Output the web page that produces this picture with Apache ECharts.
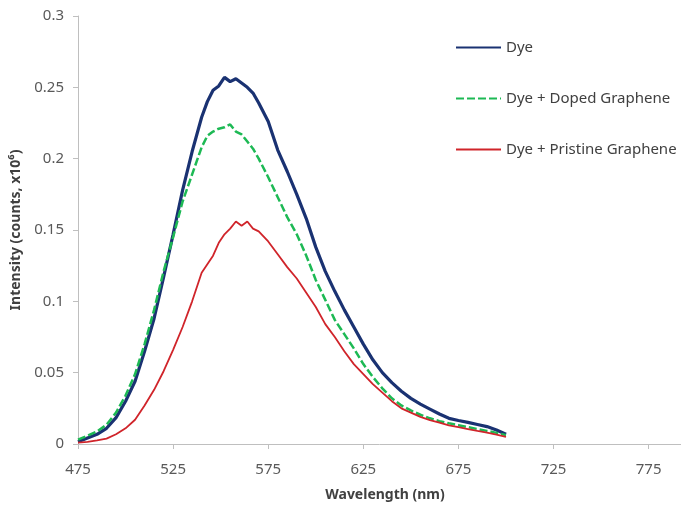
<!DOCTYPE html>
<html>
<head>
<meta charset="utf-8">
<script src="https://cdn.jsdelivr.net/npm/echarts@6/dist/echarts.min.js"></script>
<style>
html,body{margin:0;padding:0;background:#fff;overflow:hidden;}
#chart{width:681px;height:508px;}
</style>
</head>
<body>
<div id="chart"></div>
<script>
// Wavelength (nm)
const wavelengths = [475,480,485,490,495,500,505,510,515,520,525,530,535,540,543,546,549,552,555,558,561,564,567,570,575,580,585,590,595,600,605,610,615,620,625,630,635,640,645,650,655,660,665,670,675,680,685,690,695,700];
// Intensity (counts, x10^6)
const dye = [0.0016,0.0042,0.0068,0.011,0.0185,0.030,0.044,0.065,0.088,0.117,0.147,0.178,0.205,0.229,0.240,0.248,0.251,0.257,0.254,0.256,0.253,0.250,0.246,0.239,0.226,0.206,0.191,0.175,0.158,0.138,0.121,0.107,0.094,0.082,0.070,0.059,0.050,0.043,0.037,0.032,0.028,0.0245,0.021,0.018,0.0165,0.0152,0.0137,0.0122,0.0098,0.0068];
const dyeDoped = [0.003,0.0058,0.0088,0.0135,0.022,0.034,0.049,0.070,0.094,0.121,0.145,0.170,0.189,0.208,0.216,0.219,0.221,0.222,0.224,0.219,0.217,0.212,0.207,0.200,0.187,0.173,0.159,0.147,0.132,0.115,0.101,0.087,0.077,0.067,0.056,0.047,0.039,0.032,0.027,0.0235,0.0205,0.018,0.016,0.0145,0.0132,0.0118,0.0105,0.0092,0.0078,0.0062];
const dyePristine = [0.001,0.0015,0.0025,0.0038,0.0068,0.011,0.017,0.027,0.038,0.051,0.066,0.082,0.100,0.120,0.126,0.132,0.141,0.147,0.151,0.156,0.153,0.156,0.151,0.149,0.142,0.133,0.124,0.116,0.106,0.096,0.084,0.075,0.065,0.056,0.049,0.042,0.036,0.030,0.025,0.022,0.019,0.0168,0.015,0.013,0.0118,0.0105,0.0092,0.008,0.0066,0.005];
const seriesNames = ['Dye','Dye + Doped Graphene','Dye + Pristine Graphene'];

const pairs = vals => wavelengths.map((w,i)=>[w, vals[i]]);
const font = 'Noto Sans';
const chart = echarts.init(document.getElementById('chart'));
chart.setOption({
  animation:false,
  backgroundColor:'#ffffff',
  grid:{left:78,right:0,top:16,bottom:64,containLabel:false},
  legend:{
    orient:'vertical',left:450,top:35,
    itemWidth:45,itemHeight:14,itemGap:36,
    data:seriesNames,
    itemStyle:{opacity:0},
    textStyle:{fontFamily:font,fontSize:15,color:'#404040'}
  },
  xAxis:{
    type:'value',min:475,max:792,interval:50,
    name:'Wavelength (nm)',nameLocation:'middle',nameGap:44,
    nameTextStyle:{fontFamily:font,fontSize:14,fontWeight:'bold',color:'#404040',padding:[0,0,0,11]},
    axisLine:{lineStyle:{color:'#BFBFBF',width:1}},
    axisTick:{show:true,length:5,lineStyle:{color:'#BFBFBF'}},
    axisLabel:{fontFamily:font,fontSize:15,color:'#595959',margin:18,showMaxLabel:false},
    splitLine:{show:false}
  },
  yAxis:{
    type:'value',min:0,max:0.3,interval:0.05,
    name:'Intensity (counts, x10\u2076)',nameLocation:'middle',nameGap:36,
    nameTextStyle:{fontFamily:font,fontSize:14,fontWeight:'bold',color:'#404040'},
    axisLine:{show:true,lineStyle:{color:'#BFBFBF',width:1}},
    axisTick:{show:true,length:5,lineStyle:{color:'#BFBFBF'}},
    axisLabel:{fontFamily:font,fontSize:15,color:'#595959',margin:14},
    splitLine:{show:false}
  },
  series:[
    {name:seriesNames[0],type:'line',data:pairs(dye),showSymbol:false,symbol:'none',
     lineStyle:{color:'#1A3272',width:3.2},itemStyle:{color:'#1A3272'}},
    {name:seriesNames[1],type:'line',data:pairs(dyeDoped),showSymbol:false,symbol:'none',
     lineStyle:{color:'#1DB954',width:2.5,type:[8,3]},itemStyle:{color:'#1DB954'}},
    {name:seriesNames[2],type:'line',data:pairs(dyePristine),showSymbol:false,symbol:'none',
     lineStyle:{color:'#D0242A',width:1.8},itemStyle:{color:'#D0242A'}}
  ]
});
</script>
</body>
</html>
